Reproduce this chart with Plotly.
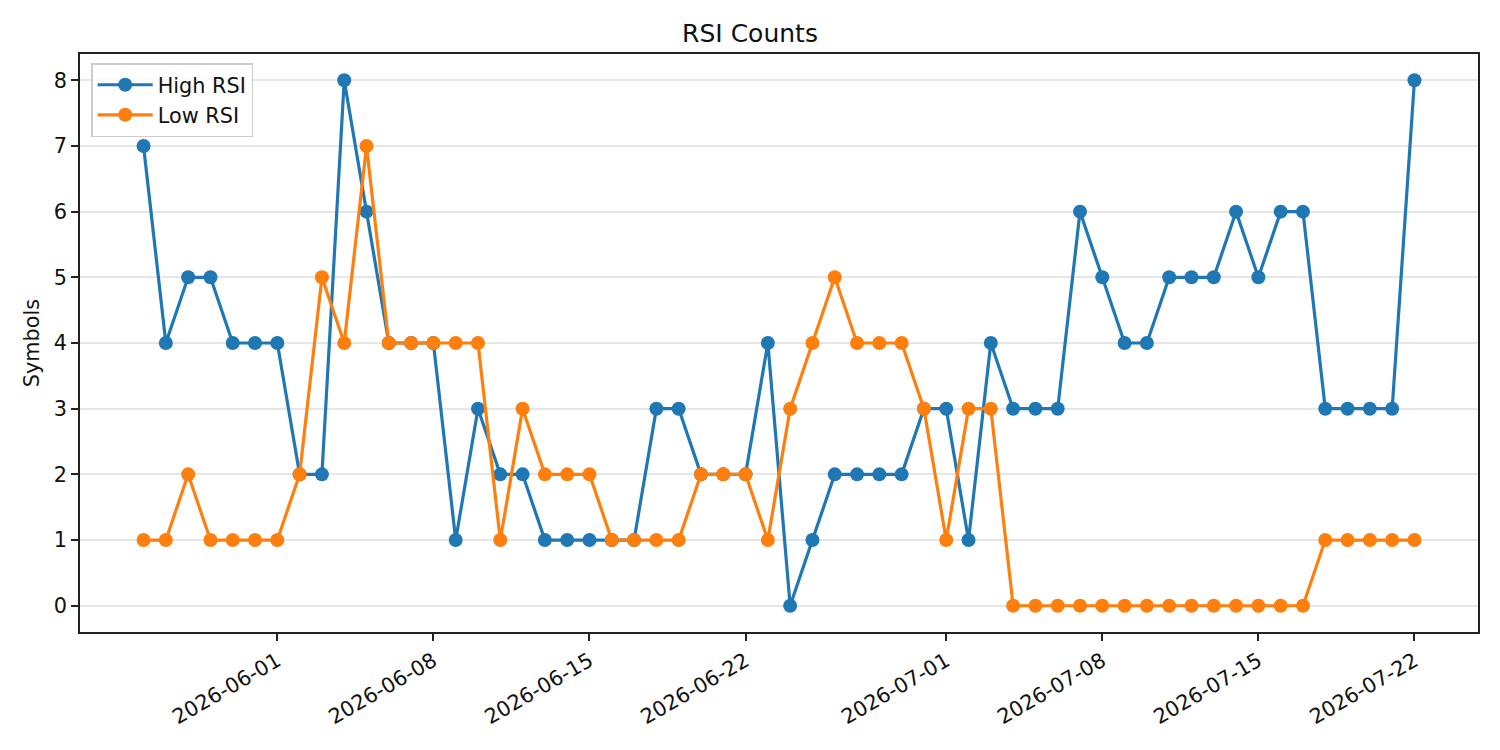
import pandas as pd
import plotly.graph_objects as go

dates = pd.date_range("2026-05-26", "2026-07-22", freq="D")
high_rsi = [7, 4, 5, 5, 4, 4, 4, 2, 2, 8, 6, 4, 4, 4, 1, 3, 2, 2, 1, 1,
            1, 1, 1, 3, 3, 2, 2, 2, 4, 0, 1, 2, 2, 2, 2, 3, 3, 1, 4, 3,
            3, 3, 6, 5, 4, 4, 5, 5, 5, 6, 5, 6, 6, 3, 3, 3, 3, 8]
low_rsi = [1, 1, 2, 1, 1, 1, 1, 2, 5, 4, 7, 4, 4, 4, 4, 4, 1, 3, 2, 2,
           2, 1, 1, 1, 1, 2, 2, 2, 1, 3, 4, 5, 4, 4, 4, 3, 1, 3, 3, 0,
           0, 0, 0, 0, 0, 0, 0, 0, 0, 0, 0, 0, 0, 1, 1, 1, 1, 1]
tick_dates = ["2026-06-01", "2026-06-08", "2026-06-15", "2026-06-22",
              "2026-07-01", "2026-07-08", "2026-07-15", "2026-07-22"]
y_ticks = [0, 1, 2, 3, 4, 5, 6, 7, 8]

FONT = "DejaVu Sans"
fig = go.Figure()
fig.add_trace(go.Scatter(x=dates, y=high_rsi, name="High RSI", mode="lines+markers",
                         line=dict(color="#1f77b4", width=3.2),
                         marker=dict(size=14, color="#1f77b4")))
fig.add_trace(go.Scatter(x=dates, y=low_rsi, name="Low RSI", mode="lines+markers",
                         line=dict(color="#ff7f0e", width=3.2),
                         marker=dict(size=14, color="#ff7f0e")))

axis_common = dict(showline=True, linecolor="#222", linewidth=1.7, mirror=True,
                   ticks="outside", ticklen=7, tickwidth=1.7, tickcolor="#222",
                   zeroline=False, tickfont=dict(family=FONT, size=20.8, color="#111"))

fig.update_layout(
    width=1500, height=750,
    margin=dict(l=80, r=22, t=54, b=118),
    paper_bgcolor="white", plot_bgcolor="white",
    font=dict(family=FONT, size=20.8, color="#111"),
    title=dict(text="RSI Counts", x=0.5, xanchor="center", y=1 - 33 / 750, yanchor="middle",
               font=dict(family=FONT, size=25, color="#111")),
    xaxis=dict(type="date", range=["2026-05-23 03:36", "2026-07-24 20:24"],
               tickvals=tick_dates, tickformat="%Y-%m-%d", tickangle=-30,
               showgrid=False, **axis_common),
    yaxis=dict(range=[-0.4, 8.4], tickvals=y_ticks, showgrid=True,
               gridcolor="#e6e6e6", gridwidth=1.5,
               title=dict(text="Symbols", standoff=8, font=dict(family=FONT, size=20.8)),
               **axis_common),
    legend=dict(x=0.008, y=0.984, xanchor="left", yanchor="top",
                bgcolor="rgba(255,255,255,0.8)", bordercolor="#cccccc", borderwidth=1.5,
                font=dict(family=FONT, size=20.8, color="#111"),
                tracegroupgap=0, itemwidth=55),
    showlegend=True,
)

fig.write_html("out.html")
